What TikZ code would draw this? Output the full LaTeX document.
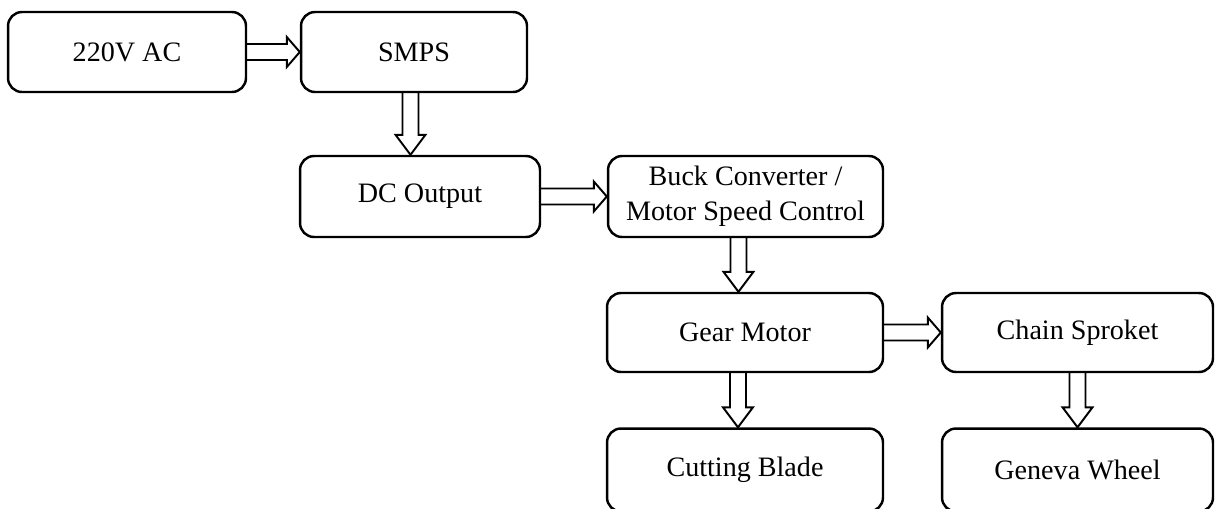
\documentclass[tikz,border=0pt]{standalone}
\usepackage{fontspec}
\setmainfont{Liberation Serif}
\usetikzlibrary{calc,positioning}

\tikzset{
  block/.style={draw, rounded corners=0.28cm, line width=1.4pt, inner sep=0pt,
    minimum height=1.6cm, align=center, font=\fontsize{16}{20}\selectfont},
  rarrow/.style={line width=1.1pt, to path={
    ($(\tikztostart)+(0,8)$) -- ($(\tikztotarget)+(-13,8)$) -- ($(\tikztotarget)+(-13,15)$)
    -- (\tikztotarget) -- ($(\tikztotarget)+(-13,-15)$) -- ($(\tikztotarget)+(-13,-8)$)
    -- ($(\tikztostart)+(0,-8)$)}},
  darrow/.style={line width=1.1pt, to path={
    ($(\tikztostart)+(-8,0)$) -- ($(\tikztotarget)+(-8,-20)$) -- ($(\tikztotarget)+(-15,-20)$)
    -- (\tikztotarget) -- ($(\tikztotarget)+(15,-20)$) -- ($(\tikztotarget)+(8,-20)$)
    -- ($(\tikztostart)+(8,0)$)}}
}

\begin{document}
\begin{tikzpicture}[x=0.02cm, y=-0.02cm]
\useasboundingbox (0,0) rectangle (1219,508);
% blocks
\node[block, minimum width=4.76cm] (ac) at (127,52) {220V AC};
\node[block, minimum width=4.52cm] (smps) at (414,52) {SMPS};
\node[block, minimum width=4.8cm, minimum height=1.62cm] (dc) at (420,196.5) {DC Output};
\node[block, minimum width=5.5cm, minimum height=1.62cm] (buck) at (745.5,196.5) {Buck Converter /\\Motor Speed Control};
\node[block, minimum width=5.52cm, minimum height=1.58cm] (gear) at (745,332.5) {Gear Motor};
\node[block, minimum width=5.42cm, minimum height=1.58cm] (chain) at (1077.5,332.5) {Chain Sproket};
\node[block, minimum width=5.52cm, minimum height=1.66cm] (cut) at (745,470) {Cutting Blade};
\node[block, minimum width=5.42cm, minimum height=1.66cm] (geneva) at (1077.5,470) {Geneva Wheel};
% arrows
\draw[rarrow] (ac.east) to (smps.west);
\draw[darrow] ([xshift=-2]smps.south) to ([xshift=-2]smps.south |- dc.north);
\draw[rarrow] (dc.east) to (buck.west);
\draw[darrow] ([xshift=-4]buck.south) to ([xshift=-4]buck.south |- gear.north);
\draw[rarrow] (gear.east) to (chain.west);
\draw[darrow] ([xshift=-4]gear.south) to ([xshift=-4]gear.south |- cut.north);
\draw[darrow] (chain.south) to (chain.south |- geneva.north);
\end{tikzpicture}
\end{document}
